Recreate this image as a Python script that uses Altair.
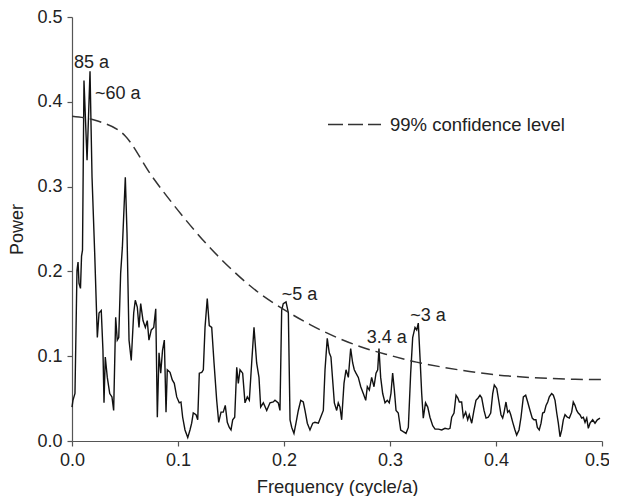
import altair as alt
import pandas as pd

# Spectrum (frequency in cycle/a, power)
freq = [0.0000, 0.0009, 0.0028, 0.0047, 0.0057, 0.0066, 0.0080, 0.0090, 0.0099, 0.0113,
        0.0142, 0.0170, 0.0189, 0.0214, 0.0239, 0.0255, 0.0276, 0.0292, 0.0302, 0.0314,
        0.0333, 0.0356, 0.0377, 0.0393, 0.0412, 0.0427, 0.0441, 0.0459, 0.0475, 0.0503,
        0.0519, 0.0538, 0.0559, 0.0582, 0.0597, 0.0616, 0.0632, 0.0648, 0.0670, 0.0692,
        0.0710, 0.0726, 0.0748, 0.0771, 0.0790, 0.0805, 0.0821, 0.0837, 0.0854, 0.0871,
        0.0887, 0.0899, 0.0925, 0.0946, 0.0965, 0.0988, 0.1012, 0.1028, 0.1044, 0.1066,
        0.1092, 0.1113, 0.1129, 0.1144, 0.1170, 0.1186, 0.1201, 0.1224, 0.1239, 0.1255,
        0.1276, 0.1295, 0.1318, 0.1340, 0.1365, 0.1384, 0.1406, 0.1427, 0.1446, 0.1465,
        0.1484, 0.1500, 0.1516, 0.1535, 0.1554, 0.1569, 0.1585, 0.1610, 0.1632, 0.1654,
        0.1673, 0.1695, 0.1717, 0.1742, 0.1764, 0.1780, 0.1805, 0.1837, 0.1868, 0.1899,
        0.1915, 0.1946, 0.1962, 0.1978, 0.1993, 0.2019, 0.2041, 0.2057, 0.2073, 0.2094,
        0.2113, 0.2135, 0.2158, 0.2182, 0.2198, 0.2220, 0.2245, 0.2271, 0.2292, 0.2324,
        0.2346, 0.2371, 0.2387, 0.2408, 0.2427, 0.2443, 0.2459, 0.2475, 0.2497, 0.2512,
        0.2528, 0.2544, 0.2566, 0.2585, 0.2607, 0.2629, 0.2648, 0.2663, 0.2679, 0.2701,
        0.2724, 0.2748, 0.2771, 0.2786, 0.2805, 0.2827, 0.2849, 0.2868, 0.2884, 0.2896,
        0.2912, 0.2931, 0.2953, 0.2975, 0.2993, 0.3009, 0.3025, 0.3041, 0.3057, 0.3078,
        0.3101, 0.3125, 0.3151, 0.3173, 0.3195, 0.3214, 0.3236, 0.3252, 0.3267, 0.3283,
        0.3299, 0.3314, 0.3335, 0.3356, 0.3377, 0.3403, 0.3425, 0.3456, 0.3488, 0.3519,
        0.3550, 0.3566, 0.3582, 0.3604, 0.3623, 0.3639, 0.3654, 0.3676, 0.3692, 0.3714,
        0.3733, 0.3748, 0.3771, 0.3792, 0.3811, 0.3833, 0.3849, 0.3865, 0.3887, 0.3906,
        0.3927, 0.3950, 0.3969, 0.3984, 0.4007, 0.4028, 0.4047, 0.4063, 0.4075, 0.4094,
        0.4110, 0.4125, 0.4139, 0.4158, 0.4179, 0.4195, 0.4217, 0.4236, 0.4258, 0.4280,
        0.4299, 0.4321, 0.4342, 0.4358, 0.4377, 0.4390, 0.4408, 0.4425, 0.4440, 0.4456,
        0.4472, 0.4488, 0.4503, 0.4525, 0.4541, 0.4557, 0.4573, 0.4588, 0.4604, 0.4620,
        0.4635, 0.4651, 0.4673, 0.4692, 0.4714, 0.4729, 0.4745, 0.4761, 0.4776, 0.4792,
        0.4808, 0.4824, 0.4840, 0.4856, 0.4871, 0.4887, 0.4912, 0.4934, 0.4956, 0.4981]

power = [0.040, 0.048, 0.056, 0.201, 0.211, 0.186, 0.180, 0.218, 0.225, 0.425,
         0.331, 0.436, 0.311, 0.222, 0.122, 0.151, 0.154, 0.107, 0.045, 0.099,
         0.075, 0.056, 0.052, 0.036, 0.146, 0.119, 0.122, 0.198, 0.228, 0.311,
         0.245, 0.119, 0.095, 0.151, 0.166, 0.158, 0.134, 0.162, 0.142, 0.134,
         0.142, 0.119, 0.131, 0.134, 0.156, 0.028, 0.104, 0.080, 0.107, 0.119,
         0.034, 0.084, 0.081, 0.072, 0.068, 0.052, 0.045, 0.046, 0.028, 0.013,
         0.004, 0.013, 0.021, 0.033, 0.031, 0.025, 0.080, 0.081, 0.084, 0.134,
         0.168, 0.136, 0.134, 0.092, 0.048, 0.022, 0.034, 0.034, 0.042, 0.022,
         0.016, 0.013, 0.025, 0.028, 0.087, 0.068, 0.084, 0.080, 0.045, 0.052,
         0.048, 0.092, 0.134, 0.092, 0.075, 0.040, 0.045, 0.036, 0.045, 0.046,
         0.048, 0.045, 0.036, 0.154, 0.162, 0.164, 0.151, 0.025, 0.016, 0.009,
         0.021, 0.036, 0.048, 0.046, 0.036, 0.021, 0.013, 0.021, 0.022, 0.021,
         0.028, 0.036, 0.084, 0.121, 0.104, 0.099, 0.072, 0.045, 0.036, 0.045,
         0.040, 0.025, 0.068, 0.084, 0.075, 0.109, 0.092, 0.084, 0.080, 0.075,
         0.064, 0.056, 0.048, 0.064, 0.060, 0.075, 0.064, 0.080, 0.084, 0.109,
         0.075, 0.056, 0.045, 0.048, 0.045, 0.056, 0.080, 0.060, 0.036, 0.033,
         0.013, 0.011, 0.009, 0.016, 0.080, 0.122, 0.134, 0.131, 0.139, 0.099,
         0.056, 0.027, 0.045, 0.040, 0.028, 0.018, 0.014, 0.014, 0.013, 0.015,
         0.014, 0.015, 0.028, 0.033, 0.054, 0.051, 0.046, 0.046, 0.028, 0.034,
         0.025, 0.031, 0.021, 0.036, 0.048, 0.051, 0.054, 0.051, 0.036, 0.027,
         0.028, 0.033, 0.056, 0.066, 0.062, 0.046, 0.031, 0.027, 0.033, 0.046,
         0.034, 0.036, 0.031, 0.022, 0.013, 0.007, 0.013, 0.028, 0.052, 0.054,
         0.046, 0.036, 0.027, 0.025, 0.025, 0.016, 0.013, 0.021, 0.033, 0.034,
         0.042, 0.046, 0.052, 0.056, 0.054, 0.048, 0.033, 0.021, 0.005, 0.013,
         0.025, 0.031, 0.028, 0.027, 0.034, 0.046, 0.042, 0.036, 0.033, 0.031,
         0.027, 0.028, 0.022, 0.027, 0.015, 0.021, 0.025, 0.021, 0.025, 0.027]

# 99% confidence level curve
conf_freq = [0.0, 0.025, 0.05, 0.075, 0.1, 0.125, 0.15, 0.175, 0.2, 0.225, 0.25,
             0.275, 0.3, 0.325, 0.35, 0.375, 0.4, 0.425, 0.45, 0.475, 0.5]
conf_power = [0.383, 0.377, 0.360, 0.313, 0.272, 0.235, 0.203, 0.176, 0.155, 0.137,
              0.122, 0.110, 0.101, 0.093, 0.087, 0.082, 0.078, 0.0755, 0.0738, 0.0728, 0.0725]
conf_label = "99% confidence level"

# Peak annotations
ann_text = ["85 a", "~60 a", "~5 a", "3.4 a", "~3 a"]
ann_freq = [0.0019, 0.0217, 0.1978, 0.278, 0.319]
ann_power = [0.440, 0.4035, 0.166, 0.115, 0.142]

tick_vals = [0.0, 0.1, 0.2, 0.3, 0.4, 0.5]
FONT = "Liberation Sans"

spec_df = pd.DataFrame({"f": freq, "p": power})
conf_df = pd.DataFrame({"f": conf_freq, "p": conf_power, "s": [conf_label] * len(conf_freq)})
ann_df = pd.DataFrame({"f": ann_freq, "p": ann_power, "t": ann_text})

xsc = alt.Scale(domain=[0, 0.5], nice=False)
ysc = alt.Scale(domain=[0, 0.5], nice=False)
xax = alt.Axis(
    values=tick_vals, format=".1f", title="Frequency (cycle/a)", labelFlush=False,
    titleFontSize=18.4, titlePadding=8,
    labelOffset={"condition": {"test": "datum.value >= 0.5", "value": -5}, "value": 0},
)
yax = alt.Axis(values=tick_vals, format=".1f", title="Power", labelFlush=False,
               titleFontSize=18, titlePadding=10)

spec = alt.Chart(spec_df).mark_line(color="#111111", strokeWidth=1.4).encode(
    x=alt.X("f:Q", scale=xsc, axis=xax),
    y=alt.Y("p:Q", scale=ysc, axis=yax),
    order="f:Q",
)

conf = alt.Chart(conf_df).mark_line(strokeDash=[12, 6], strokeWidth=1.5, interpolate="monotone").encode(
    x="f:Q",
    y="p:Q",
    color=alt.Color(
        "s:N",
        scale=alt.Scale(domain=[conf_label], range=["#333333"]),
        legend=alt.Legend(
            title=None, orient="none", legendX=255, legendY=80,
            symbolType="stroke", symbolSize=2809, symbolStrokeWidth=1.5,
            symbolDash=[15, 5], labelFontSize=18.5, labelFont=FONT, labelLimit=400,
            labelColor="#222222", labelOffset=8, padding=0,
        ),
    ),
)

ann = alt.Chart(ann_df).mark_text(
    align="left", baseline="alphabetic", fontSize=18, font=FONT, color="#222222"
).encode(x="f:Q", y="p:Q", text="t:N")

chart = alt.layer(spec, conf, ann).properties(
    width=530, height=424,
    autosize=alt.AutoSizeParams(type="none"),
    padding={"left": 64, "top": 9, "right": 7, "bottom": 55},
).configure_view(stroke=None).configure_axis(
    grid=False, domainColor="#555555", tickColor="#555555", tickSize=5,
    labelFont=FONT, titleFont=FONT, labelFontSize=18,
    labelColor="#222222", titleColor="#222222", titleFontWeight="normal",
    labelPadding=5, domainWidth=1.2, tickWidth=1.2,
)

chart.save("out.html", embed_options={"renderer": "svg", "actions": False})
